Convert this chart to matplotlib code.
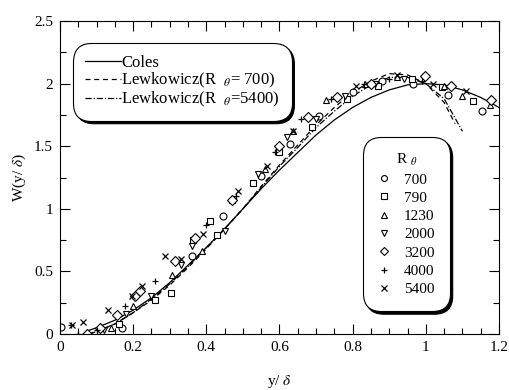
import matplotlib
matplotlib.use("Agg")
import matplotlib.pyplot as plt

plt.rcParams['font.family'] = ['Liberation Serif', 'DejaVu Serif']
plt.rcParams['mathtext.fontset'] = 'stix'

# curves
coles_x = [0.08, 0.1, 0.15, 0.2, 0.25, 0.3, 0.35, 0.4, 0.45, 0.5, 0.55, 0.6, 0.65,
           0.7, 0.75, 0.8, 0.85, 0.9, 0.95, 1.0, 1.05, 1.1, 1.15, 1.2]
coles_y = [0.03, 0.05, 0.11, 0.19, 0.29, 0.41, 0.55, 0.69, 0.84, 1.0, 1.16, 1.31, 1.45,
           1.59, 1.71, 1.81, 1.89, 1.95, 1.99, 2.0, 1.99, 1.95, 1.89, 1.81]
lew700_x = [0.08, 0.1, 0.15, 0.2, 0.25, 0.3, 0.35, 0.4, 0.45, 0.5, 0.55, 0.6, 0.65,
            0.7, 0.75, 0.8, 0.85, 0.9, 0.95, 1.0, 1.05, 1.08]
lew700_y = [0.0, 0.02, 0.08, 0.17, 0.27, 0.39, 0.53, 0.68, 0.84, 1.0, 1.18, 1.35, 1.51,
            1.67, 1.81, 1.93, 2.02, 2.08, 2.07, 2.0, 1.85, 1.68]
lew5400_x = [0.08, 0.1, 0.15, 0.2, 0.25, 0.3, 0.35, 0.4, 0.45, 0.5, 0.55, 0.6, 0.65,
             0.7, 0.75, 0.8, 0.85, 0.9, 0.95, 1.0, 1.05, 1.1]
lew5400_y = [0.0, 0.02, 0.08, 0.17, 0.28, 0.4, 0.54, 0.69, 0.84, 1.0, 1.17, 1.34, 1.49,
             1.65, 1.78, 1.9, 1.99, 2.05, 2.05, 2.0, 1.88, 1.62]

# measured points, one list per Re_theta
re_labels = ['700', '790', '1230', '2000', '3200', '4000', '5400']
markers = ['o', 's', '^', 'v', 'D', '+', 'x']
pts_x = [
    [0.003, 0.17, 0.36, 0.445, 0.55, 0.63, 0.708, 0.80, 0.88, 0.965, 1.06, 1.153],
    [0.16, 0.26, 0.303, 0.363, 0.41, 0.43, 0.527, 0.60, 0.69, 0.784, 0.87, 0.962, 1.043, 1.13],
    [0.14, 0.2, 0.305, 0.388, 0.47, 0.56, 0.637, 0.727, 0.833, 0.92, 1.05, 1.10, 1.175],
    [0.12, 0.18, 0.25, 0.33, 0.36, 0.45, 0.54, 0.62, 0.7, 0.78, 0.86, 0.94],
    [0.075, 0.11, 0.155, 0.205, 0.22, 0.315, 0.37, 0.47, 0.60, 0.678, 0.757, 0.85, 0.997, 1.07, 1.178],
    [0.03, 0.05, 0.1, 0.178, 0.26, 0.4, 0.48, 0.587, 0.66, 0.74, 0.83, 0.9, 0.99],
    [0.033, 0.063, 0.13, 0.197, 0.224, 0.287, 0.33, 0.39, 0.486, 0.566, 0.637, 0.81, 0.92, 1.02, 1.11],
]
pts_y = [
    [0.056, 0.05, 0.62, 0.94, 1.26, 1.52, 1.74, 1.93, 2.02, 2.0, 1.91, 1.78],
    [0.08, 0.27, 0.33, 0.75, 0.9, 0.79, 1.21, 1.45, 1.65, 1.88, 1.98, 2.04, 1.97, 1.86],
    [0.05, 0.22, 0.47, 0.66, 1.07, 1.32, 1.62, 1.87, 2.0, 2.05, 1.98, 1.90, 1.83],
    [0.03, 0.16, 0.3, 0.55, 0.7, 0.82, 1.28, 1.57, 1.72, 1.9, 2.0, 2.04],
    [0.0, 0.05, 0.15, 0.30, 0.34, 0.58, 0.77, 1.07, 1.50, 1.73, 1.89, 2.0, 2.06, 1.98, 1.87],
    [0.07, 0.0, 0.03, 0.22, 0.42, 0.87, 1.1, 1.45, 1.72, 1.88, 2.0, 2.04, 2.02],
    [0.07, 0.096, 0.19, 0.30, 0.38, 0.62, 0.6, 0.8, 1.14, 1.34, 1.62, 1.98, 2.07, 2.0, 1.94],
]

fig = plt.figure(figsize=(5.1, 3.9), dpi=100)
ax = fig.add_axes([0.1176, 0.1436, 0.8608, 0.8024])

l1, = ax.plot(coles_x, coles_y, color='black', lw=0.9, ls='-')
l2, = ax.plot(lew700_x, lew700_y, color='black', lw=0.9, ls=(0, (4, 3)))
l3, = ax.plot(lew5400_x, lew5400_y, color='black', lw=0.9, ls=(0, (5, 1.5, 1, 1.5)))

pts = []
for px, py, m in zip(pts_x, pts_y, markers):
    size = 4.6 if m == 'D' else 5
    if m in ('+', 'x'):
        h, = ax.plot(px, py, ls='none', marker=m, ms=size, color='black', mew=0.9)
    else:
        h, = ax.plot(px, py, ls='none', marker=m, ms=size, mfc='white', mec='black', mew=0.8)
    pts.append(h)

ax.set_xlim(0, 1.2)
ax.set_ylim(0, 2.5)
ax.set_xticks([0, 0.2, 0.4, 0.6, 0.8, 1.0, 1.2])
ax.set_xticklabels(['0', '0.2', '0.4', '0.6', '0.8', '1', '1.2'])
ax.set_yticks([0, 0.5, 1.0, 1.5, 2.0, 2.5])
ax.set_yticklabels(['0', '0.5', '1', '1.5', '2', '2.5'])
ax.set_xticks([i * 0.05 for i in range(25)], minor=True)
ax.set_yticks([i * 0.25 for i in range(11)], minor=True)
ax.tick_params(which='both', direction='in', top=True, right=True, labelsize=11, pad=5)
ax.tick_params(which='major', length=7, width=0.8)
ax.tick_params(which='minor', length=4, width=0.8)
for s in ax.spines.values():
    s.set_linewidth(0.8)

ax.set_xlabel('y/ $\\delta$', fontsize=11, labelpad=14)
ax.set_ylabel('W(y/ $\\delta$)', fontsize=11, labelpad=4)

leg1 = ax.legend([l1, l2, l3],
                 ['Coles', 'Lewkowicz(R  $_{\\theta}$= 700)', 'Lewkowicz(R  $_{\\theta}$=5400)'],
                 loc='upper left', bbox_to_anchor=(0.022, 0.94), fontsize=12,
                 handlelength=2.2, handletextpad=0.0, labelspacing=0.0,
                 borderpad=0.4, fancybox=True,
                 shadow={'color': 'black', 'alpha': 1.0}, framealpha=1)
leg1.get_frame().set_edgecolor('black')
leg1.get_frame().set_linewidth(0.8)
leg1.get_frame().set_boxstyle('round,pad=0.3,rounding_size=1.1')
ax.add_artist(leg1)

leg2 = ax.legend(pts, re_labels, title='R $_{\\theta}$', loc='upper left',
                 bbox_to_anchor=(0.69, 0.63), fontsize=11, title_fontsize=11,
                 markerscale=0.85, handlelength=0.8, handletextpad=0.9, labelspacing=0.3,
                 borderpad=0.7, borderaxespad=0.3, fancybox=True,
                 shadow={'color': 'black', 'alpha': 1.0}, framealpha=1)
leg2.get_frame().set_edgecolor('black')
leg2.get_frame().set_linewidth(0.8)
leg2.get_frame().set_boxstyle('round,pad=0.3,rounding_size=1.2')

fig.savefig('out.png', dpi=100)
